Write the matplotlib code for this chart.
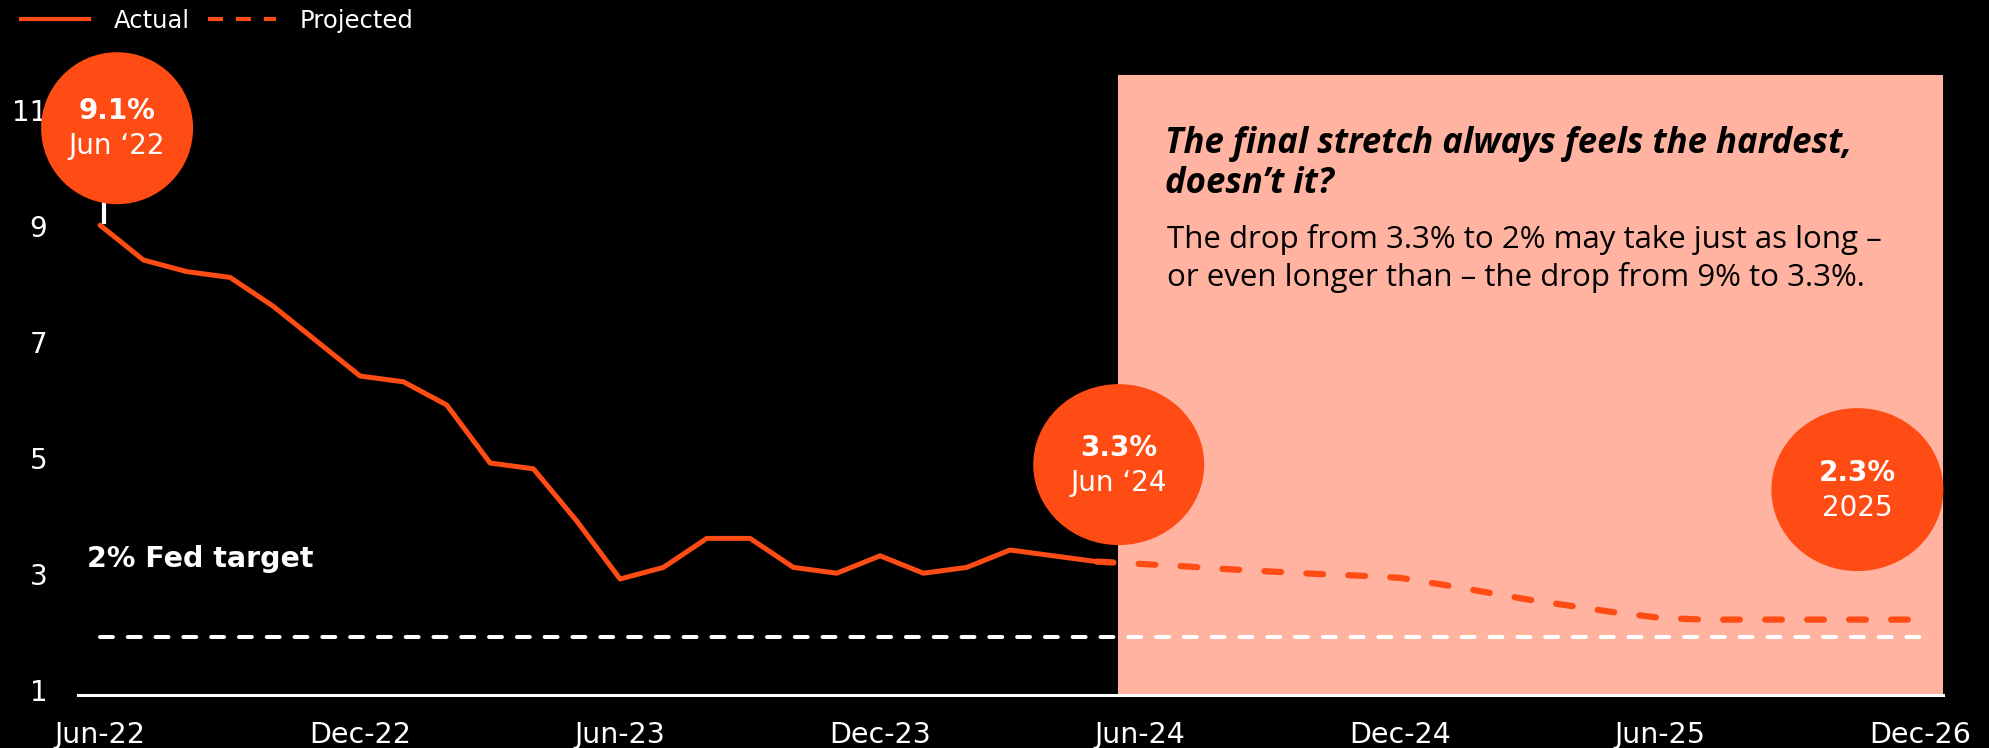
import matplotlib.pyplot as plt
from matplotlib.lines import Line2D
from matplotlib.patches import Ellipse
from matplotlib.transforms import ScaledTranslation

# US CPI inflation, % y/y; month index 0 = Jun-22
actual_months = list(range(24))
actual_cpi = [9.1, 8.5, 8.3, 8.2, 7.7, 7.1, 6.5, 6.4, 6.0, 5.0, 4.9, 4.0,
              3.0, 3.2, 3.7, 3.7, 3.2, 3.1, 3.4, 3.1, 3.2, 3.5, 3.4, 3.3]
proj_months = list(range(23, 43))
proj_cpi = [3.30, 3.26, 3.22, 3.17, 3.13, 3.09, 3.06, 3.02, 2.90, 2.77,
            2.64, 2.53, 2.42, 2.33, 2.30, 2.30, 2.30, 2.30, 2.30, 2.30]
fed_target = 2.0
forecast_start = 23.5

tick_months = [0, 6, 12, 18, 24, 30, 36, 42]
tick_labels = ['Jun-22', 'Dec-22', 'Jun-23', 'Dec-23', 'Jun-24', 'Dec-24', 'Jun-25', 'Dec-26']
y_ticks = [1, 3, 5, 7, 9, 11]

# bubbles: (month, value, bold text, small text)
callouts = [(0, 9.1, '9.1%', 'Jun ‘22'),
            (23, 3.3, '3.3%', 'Jun ‘24'),
            (40, 2.3, '2.3%', '2025')]

heading_lines = ['The final stretch always feels the hardest,', 'doesn’t it?']
body_lines = ['The drop from 3.3% to 2% may take just as long –',
              'or even longer than – the drop from 9% to 3.3%.']

ORANGE = '#FF4B14'
SALMON = '#FFB3A0'
W, H = 1990, 748

plt.rcParams['font.family'] = ['DejaVu Sans']

fig = plt.figure(figsize=(W / 100, H / 100), dpi=100, facecolor='black')
ax = fig.add_axes([78 / W, 53 / H, 1865 / W, 620 / H])
ax.set_facecolor('black')
ax.set_xlim(-0.51, 42.53)
ax.set_ylim(1, 11.69)

# forecast period shading
ax.axvspan(forecast_start, 42.53, color=SALMON, lw=0, zorder=0)

ax.plot([0, 42], [fed_target, fed_target], color='white', lw=2.9,
        dashes=(3.2, 3.7), dash_capstyle='round', zorder=2)
ax.plot(actual_months, actual_cpi, color=ORANGE, lw=3.6,
        solid_capstyle='round', zorder=3)
ax.plot(proj_months, proj_cpi, color=ORANGE, lw=4.5,
        dashes=(2.67, 4.05), dash_capstyle='round', zorder=3)

ax.text(-0.3, 3.2, '2% Fed target', color='white', fontsize=20.5,
        fontweight='bold', va='baseline', ha='left')

# axes styling
for side in ['top', 'right', 'left']:
    ax.spines[side].set_visible(False)
ax.spines['bottom'].set_color('white')
ax.spines['bottom'].set_linewidth(2.2)
ax.set_xticks(tick_months, tick_labels)
ax.set_yticks(y_ticks)
ax.tick_params(axis='x', length=0, pad=19, labelsize=20.5, labelcolor='white')
ax.tick_params(axis='y', length=0, pad=22, labelsize=20, labelcolor='white')
# y labels sit a little above their gridline value
lift = ScaledTranslation(0, 5 / 100, fig.dpi_scale_trans)
for lab in ax.get_yticklabels():
    lab.set_transform(lab.get_transform() + lift)


def pixel_frame(x, y):
    # origin on the data point, units in inches (1 in = 100 px)
    return fig.dpi_scale_trans + ScaledTranslation(x, y, ax.transData)


# bubble offsets from their point and size, in pixels: (dx, dy, w, h)
bubble_geom = [(17, 97, 152, 152), (22, 97, 171, 161), (24, 130, 172, 163)]

for (m, v, big, small), (dx, dy, bw, bh) in zip(callouts, bubble_geom):
    tr = pixel_frame(m, v)
    ax.add_patch(Ellipse((dx / 100, dy / 100), bw / 100, bh / 100,
                         facecolor=ORANGE, edgecolor='none', transform=tr,
                         clip_on=False, zorder=5))
    ax.text(dx / 100, (dy + 9) / 100, big, transform=tr, color='white',
            fontsize=20, fontweight='bold', ha='center', va='baseline', zorder=6)
    ax.text(dx / 100, (dy - 26) / 100, small, transform=tr, color='white',
            fontsize=20, ha='center', va='baseline', zorder=6)

# short white stem under the first bubble
tr0 = pixel_frame(callouts[0][0], callouts[0][1])
ax.add_line(Line2D([0.04, 0.04], [0.03, 0.22], color='white', lw=3,
                   transform=tr0, clip_on=False, zorder=4))

# text inside the forecast panel
box_font = ['Open Sans', 'DejaVu Sans']
for i, line in enumerate(heading_lines):
    fig.text(1165 / W, 1 - (153 + 40 * i) / H, line, family=box_font,
             fontsize=25, fontweight='bold', style='italic', color='black',
             va='baseline', ha='left')
for i, line in enumerate(body_lines):
    fig.text(1167 / W, 1 - (248 + 38 * i) / H, line, family=box_font,
             fontsize=22.5, color='black', va='baseline', ha='left')

handles = [Line2D([], [], color=ORANGE, lw=3),
           Line2D([], [], color=ORANGE, lw=3, dashes=(3.6, 3.1))]
fig.legend(handles, ['Actual', 'Projected'], loc='center left',
           bbox_to_anchor=(21 / W, 1 - 21 / H), ncol=2, frameon=False,
           fontsize=17.5, handlelength=2.8, handletextpad=1.0,
           columnspacing=0.75, borderpad=0, borderaxespad=0, labelcolor='white')

fig.savefig('out.png', dpi=100, facecolor='black')
